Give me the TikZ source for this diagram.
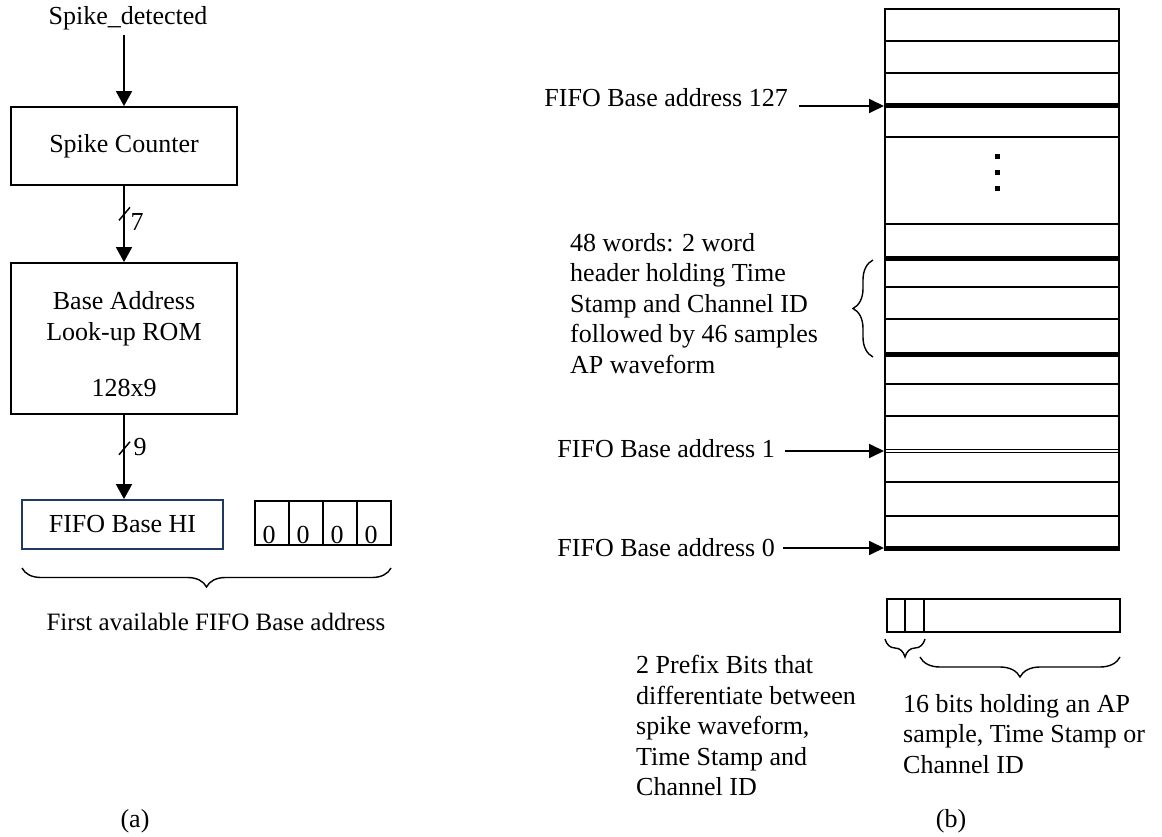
\documentclass[tikz,border=0pt]{standalone}
\usepackage{fontspec}
\setmainfont{Liberation Serif}
\usetikzlibrary{arrows.meta,decorations.pathreplacing,calc}
\definecolor{navy}{RGB}{31,56,100}
\begin{document}
\begin{tikzpicture}[x=1pt,y=-1pt,
  txt/.style={inner sep=0pt, font=\fontsize{26}{30.5}\selectfont},
  blk/.style={draw, line width=1.8pt, inner sep=0pt, font=\fontsize{26}{30.5}\selectfont},
  cell/.style={draw, line width=1.6pt, inner sep=0pt, minimum width=34pt, minimum height=44pt},
  arr/.style={line width=1.8pt, -{Triangle[length=15pt,width=16pt]}},
  arrb/.style={line width=1.8pt, -{Triangle[length=15pt,width=14pt]}},
  brc/.style={decorate, decoration={brace, amplitude=#1}, line width=1.4pt},
  slash/.style={line width=1.5pt},
  thinrule/.style={line width=1.6pt},
  thickrule/.style={line width=5pt},
]
\useasboundingbox (0,0) rectangle (1162,837);

% ---------- (a) ----------
\node[txt, anchor=base] (sd) at (128,25) {Spike\_detected};
\node[blk, minimum width=226pt, minimum height=78pt] (sc) at (124,146) {Spike Counter};
\node[blk, minimum width=226pt, minimum height=151pt] (rom) at (124,338.5) {};
\node[txt, anchor=base] (romt1) at (124,309) {Base Address};
\node[txt, anchor=base] (romt2) at (124,340) {Look-up ROM};
\node[txt, anchor=base] (romt3) at (124,396) {128x9};
\node[blk, draw=navy, minimum width=201pt, minimum height=49pt] (hi) at (122.5,524.5) {FIFO Base HI};

\node[cell] (z1) at (272,523) {};
\node[cell] (z2) at (306,523) {};
\node[cell] (z3) at (340,523) {};
\node[cell] (z4) at (374,523) {};
\foreach \i in {1,2,3,4}{
  \node[txt, anchor=base] (zt\i) at ($(z\i.south)+(-3,-2)$) {0};
}

\draw[arr] ($(sc.north |- sd.south)+(0,4)$) -- (sc.north);
\draw[arr] (sc.south) -- (rom.north);
\draw[slash] ($(sc.south)!0.36!(rom.north)+(-5,7)$) -- ++(11,-13);
\node[txt] (w7) at (137,222) {7};
\draw[arr] (rom.south) -- (rom.south |- hi.north);
\draw[slash] ($(rom.south)!0.39!(rom.south |- hi.north)+(-5,7)$) -- ++(11,-13);
\node[txt] (w9) at (140,447) {9};

\draw[brc=19pt] (391,568) -- (22,568);
\node[txt, font=\fontsize{25}{30}\selectfont, anchor=base] (fa) at (216,630) {First available FIFO Base address};
\node[txt, anchor=base] (la) at (135,827) {(a)};

% ---------- (b) ----------
\node[draw, line width=2pt, inner sep=0pt, minimum width=234pt, minimum height=541pt] (mem) at (1002,279.5) {};
\foreach \y in {41,73,137,224,287,319,384,416,482,516}{
  \draw[thinrule] (mem.west |- 0,\y) -- (mem.east |- 0,\y);
}
\foreach \y in {106,258,354,548}{
  \draw[thickrule] (mem.west |- 0,\y) -- (mem.east |- 0,\y);
}
\draw[line width=1.3pt] (mem.west |- 0,449.5) -- (mem.east |- 0,449.5);
\draw[line width=1.3pt] (mem.west |- 0,452.5) -- (mem.east |- 0,452.5);
\foreach \y in {157,173,189}{
  \fill (994.5,\y-2.5) rectangle ++(5,5);
}

\coordinate (a127) at (mem.west |- 0,106);
\coordinate (a1) at (mem.west |- 0,451);
\coordinate (a0) at (mem.west |- 0,548);
\node[txt, anchor=base east] (t127) at (788,107) {FIFO Base address 127};
\node[txt, anchor=base east] (t1) at (775,457) {FIFO Base address 1};
\node[txt, anchor=base east] (t0) at (775,556) {FIFO Base address 0};
\draw[arrb] ($(t127.east |- a127)+(11,0)$) -- (a127);
\draw[arrb] ($(t1.east |- a1)+(10,0)$) -- (a1);
\draw[arrb] ($(t0.east |- a0)+(8,0)$) -- (a0);

\node[txt, anchor=north west, align=left] (wt) at (570,233)
  {48 words: 2 word\\header holding Time\\Stamp and Channel ID\\followed by 46 samples\\AP waveform};
\draw[brc=20pt] (873,357) -- (873,260);

\node[draw, line width=1.8pt, inner sep=0pt, minimum width=233pt, minimum height=33pt] (word) at (1003.5,615.5) {};
\draw[line width=1.8pt] (word.north -| 905,0) -- (word.south -| 905,0);
\draw[line width=1.8pt] (word.north -| 924,0) -- (word.south -| 924,0);
\draw[brc=18pt] (925,639) -- (885,639);
\draw[brc=20pt] (1120,657) -- (920,657);

\node[txt, anchor=north west, align=left] (pt) at (636,655)
  {2 Prefix Bits that\\differentiate between\\spike waveform,\\Time Stamp and\\Channel ID};
\node[txt, anchor=north west, align=left] (bt) at (903,694)
  {16 bits holding an AP\\sample, Time Stamp or\\Channel ID};
\node[txt, anchor=base] (lb) at (951,827) {(b)};
\end{tikzpicture}
\end{document}
